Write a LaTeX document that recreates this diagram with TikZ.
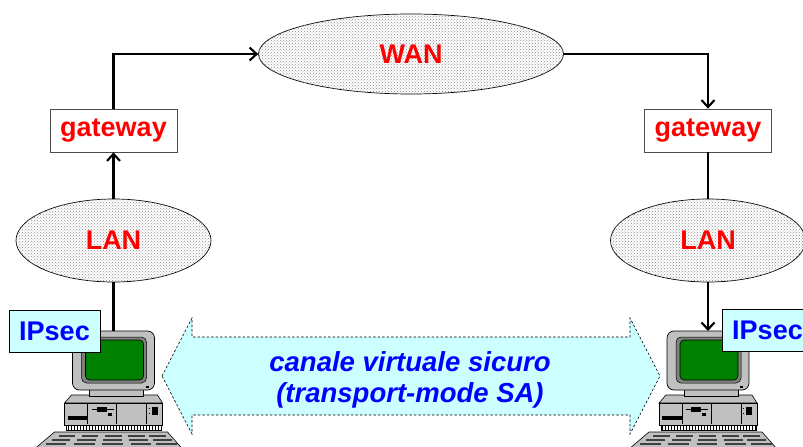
\documentclass[tikz,border=0pt]{standalone}
\usepackage{fontspec}
\setmainfont{Liberation Sans}
\usetikzlibrary{shapes.geometric,arrows.meta,patterns,calc}

\definecolor{netred}{RGB}{255,0,0}
\definecolor{tagblue}{RGB}{0,0,255}
\definecolor{tagfill}{RGB}{204,255,255}
\definecolor{pcgray}{RGB}{192,192,192}
\definecolor{pcdark}{RGB}{128,128,128}
\definecolor{crtgreen}{RGB}{0,128,0}

\begin{document}
\begin{tikzpicture}[x=1pt,y=-1pt,
  bigfont/.style={font=\fontsize{27}{30}\selectfont\bfseries},
  cloudnet/.style={ellipse, draw=black, line width=0.7pt, fill=white,
    postaction={pattern=crosshatch dots, pattern color=black!45},
    inner sep=0pt, bigfont, text=netred},
  gwbox/.style={rectangle, draw=black!70, line width=0.8pt, fill=white,
    minimum width=127pt, minimum height=43pt, inner sep=0pt, bigfont, text=netred},
  tagbox/.style={rectangle, draw=black, line width=0.7pt, fill=tagfill,
    minimum width=91pt, minimum height=42pt, inner sep=0pt, bigfont, text=tagblue},
  link/.style={draw=black, line width=2.3pt},
  arrowlink/.style={link, -{Straight Barb[length=7pt,width=13pt,line width=2.1pt]}},
  channel/.style={draw=black, line width=0.6pt, dash pattern=on 2.5pt off 2pt, fill=tagfill},
  pics/pc/.style={code={
    % system unit, top face
    \filldraw[fill=pcgray, draw=black, line width=0.6pt]
      (-42,64) -- (44,64) -- (49,72) -- (-49,72) -- cycle;
    % system unit, front
    \filldraw[fill=pcgray, draw=black, line width=0.6pt] (-49,72) rectangle (49,94);
    \draw[black, line width=0.5pt] (-26,73) -- (-26,93) (3,73) -- (3,93) (33,73) -- (33,93);
    \fill[black] (-46,85) rectangle (-26,89);
    \draw[black, line width=0.6pt] (-22,78) -- (0,78);
    \fill[black] (-17,76) rectangle (-7,81);
    \fill[black] (-6,82) rectangle (-2,85);
    \fill[black] (38,76) rectangle (44,84);
    \draw[black, line width=0.5pt] (35,77) -- (36,77) (35,82) -- (36,82);
    % ventilation grill
    \filldraw[fill=white, draw=black, line width=0.5pt] (-47,94) rectangle (48,99);
    \foreach \i in {0,...,31} \draw[black, line width=0.9pt] (-45.5+\i*3,94.5) -- ++(0,4);
    % keyboard
    \filldraw[fill=pcgray, draw=black, line width=0.6pt]
      (-59,101) -- (54,101) -- (69,118) -- (-79,118) -- cycle;
    \foreach \yy/\xa/\xb in {105/-55/50, 109/-62/56, 113/-68/61} {
      \foreach \f in {0.00,0.22,0.44,0.66,0.86} {
        \draw[black!75, line width=2pt]
          ({\xa+\f*(\xb-\xa)},\yy) -- ({\xa+(\f+0.16)*(\xb-\xa)},\yy);
      }
    }
    % monitor neck
    \filldraw[fill=pcgray, draw=black, line width=0.6pt] (-24,56) rectangle (30,65);
    % monitor
    \filldraw[fill=pcgray, draw=black, line width=0.7pt, rounded corners=7pt]
      (-41,0) rectangle (41,59);
    \filldraw[fill=pcdark, draw=black, line width=0.5pt, rounded corners=5pt]
      (-32,6) rectangle (33,52);
    \filldraw[fill=crtgreen, draw=black, line width=0.6pt, rounded corners=4pt]
      (-28,9) rectangle (30,49);
    \fill[black] (32,55) rectangle (35,56.5);
  }}
]
\clip (0,0) rectangle (803,447);
\fill[white] (0,0) rectangle (803,447);

% networks and gateways
\node[cloudnet, minimum width=305pt, minimum height=80pt] (wan) at (411,54) {WAN};
\node[cloudnet, minimum width=195pt, minimum height=83pt] (lan1) at (113.5,240.5) {LAN};
\node[cloudnet, minimum width=195pt, minimum height=83pt] (lan2) at (708,240.5) {LAN};
\node[gwbox] (gw1) at (113.5,130.5) {gateway};
\node[gwbox] (gw2) at (708,130.5) {gateway};

% end hosts
\coordinate (host1) at (113.5,331);
\coordinate (host2) at (708,331);

% connections
\draw[arrowlink] (lan1.north) -- (gw1.south);
\draw[arrowlink] (gw1.north) |- (wan.west);
\draw[arrowlink] (wan.east) -| (gw2.north);
\draw[link] (gw2.south) -- (lan2.north);
\draw[arrowlink] (lan2.south) -- (host2);
\draw[link] (host1) -- (lan1.south);

% secure channel between the hosts
\path[channel] (162,376) -- (192,318) -- (192,337) -- (630,337) -- (630,318)
  -- (660,376) -- (630,434) -- (630,415) -- (192,415) -- (192,434) -- cycle;
\node[align=center, text=tagblue, font=\fontsize{27.5}{31}\selectfont\bfseries\itshape]
  (chan) at (410,380) {canale virtuale sicuro\\(transport-mode SA)};

% computers
\pic (pcA) at (host1) {pc};
\pic (pcB) at (host2) {pc};

% IPsec tags
\node[tagbox] (ips1) at (54.5,331) {IPsec};
\node[tagbox] (ips2) at (767.5,330.5) {IPsec};
\end{tikzpicture}
\end{document}
